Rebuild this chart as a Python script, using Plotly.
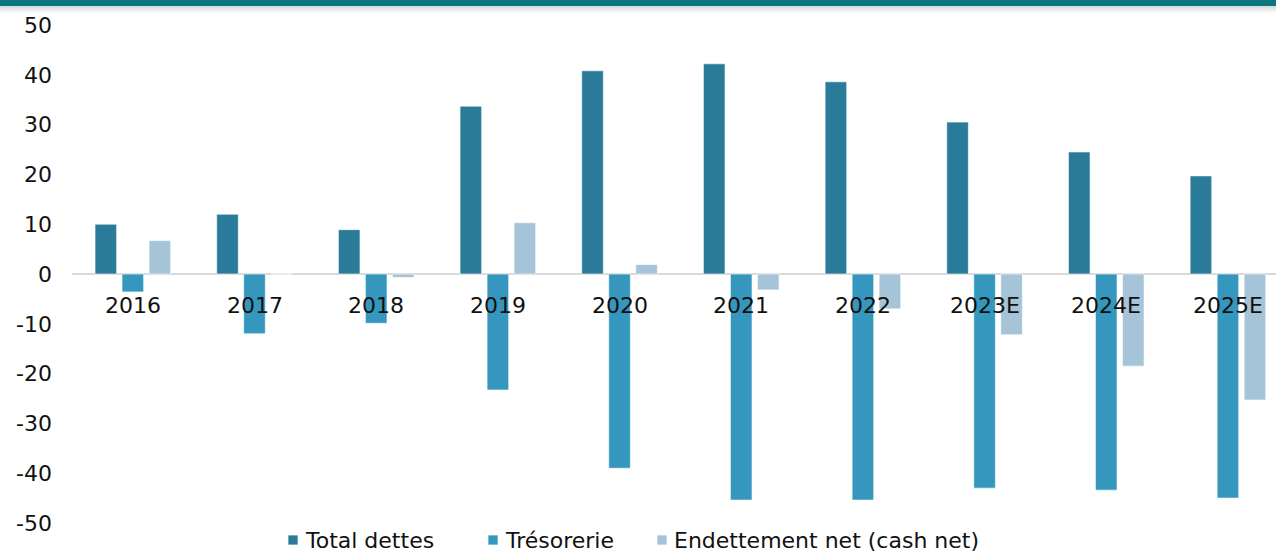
import plotly.graph_objects as go

years = ["2016", "2017", "2018", "2019", "2020", "2021", "2022", "2023E", "2024E", "2025E"]
total_dettes = [10.0, 12.0, 8.9, 33.7, 40.8, 42.2, 38.6, 30.5, 24.5, 19.7]
tresorerie = [-3.6, -12.0, -9.9, -23.3, -39.0, -45.4, -45.4, -43.0, -43.4, -45.0]
endettement_net = [6.7, 0.0, -0.7, 10.3, 1.9, -3.2, -7.0, -12.2, -18.5, -25.3]
y_ticks = [50, 40, 30, 20, 10, 0, -10, -20, -30, -40, -50]

series = [
    ("Total dettes", total_dettes, "#2A7B99"),
    ("Trésorerie", tresorerie, "#3597BD"),
    ("Endettement net (cash net)", endettement_net, "#A5C4D8"),
]

W, H = 1276, 552
M_L, M_R, M_T, M_B = 72, 0, 25, 0
FONT = "DejaVu Sans, Verdana, sans-serif"
FS = 22
TXT = "#111111"

plot_w = W - M_L - M_R
plot_h = H - M_T - M_B

fig = go.Figure()
for name, vals, col in series:
    fig.add_trace(go.Bar(
        x=list(range(len(years))), y=vals, name=name,
        marker=dict(color=col, line=dict(color="rgba(255,255,255,0.6)", width=1)),
    ))

# category labels sit just under the zero line
for i, yr in enumerate(years):
    fig.add_annotation(x=i, y=0, text=yr, showarrow=False, yanchor="middle",
                       yshift=-31, font=dict(family=FONT, size=FS, color=TXT))

# legend along the bottom edge: small square followed by the series name
legend_left = [288, 488, 657]
leg_y = (H - 540) / plot_h
for (name, _, col), px in zip(series, legend_left):
    x0 = (px - M_L) / plot_w
    fig.add_shape(type="rect", xref="paper", yref="paper",
                  x0=x0, x1=x0 + 10 / plot_w,
                  y0=leg_y - 5 / plot_h, y1=leg_y + 5 / plot_h,
                  fillcolor=col, line=dict(color="rgba(255,255,255,0.7)", width=1))
    fig.add_annotation(xref="paper", yref="paper", x=x0 + 15 / plot_w, y=leg_y,
                       xanchor="left", yanchor="middle", text=name, showarrow=False,
                       font=dict(family=FONT, size=FS, color=TXT))

top = 1 + M_T / plot_h
# teal band across the top with a soft shadow below it
fig.add_shape(type="rect", xref="paper", yref="paper", x0=-0.1, x1=1.1,
              y0=top - 6 / plot_h, y1=top + 0.01, fillcolor="#0E7681", line_width=0, layer="above")
for k in range(7):
    g = 0.22 * (1 - k / 7)
    fig.add_shape(type="rect", xref="paper", yref="paper", x0=-0.1, x1=1.1,
                  y0=top - (7 + k) / plot_h, y1=top - (6 + k) / plot_h,
                  fillcolor=f"rgba(90,90,90,{g:.3f})", line_width=0, layer="above")

fig.update_layout(
    width=W, height=H,
    margin=dict(l=M_L, r=M_R, t=M_T, b=M_B),
    paper_bgcolor="white", plot_bgcolor="white",
    barmode="group", bargap=0.334, bargroupgap=0.2,
    showlegend=False,
    xaxis=dict(range=[-0.5, 9.395], showticklabels=False, showgrid=False,
               zeroline=False, showline=False, ticks=""),
    yaxis=dict(range=[-50 - 29 / 4.98, 50], tickvals=y_ticks, ticktext=[str(v) for v in y_ticks],
               showgrid=False, zeroline=True, zerolinecolor="#D9D9D9", zerolinewidth=2,
               showline=False, ticks="", ticklen=0, ticklabelstandoff=19,
               tickfont=dict(family=FONT, size=FS, color=TXT)),
)

fig.write_html("out.html")
